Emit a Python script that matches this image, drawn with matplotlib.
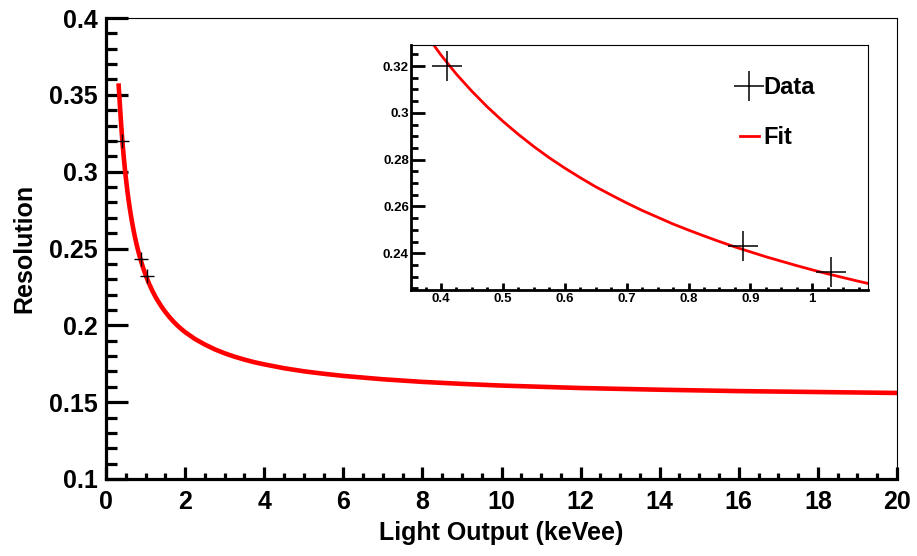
import numpy as np
import matplotlib.pyplot as plt
from matplotlib.ticker import MultipleLocator, FormatStrFormatter
from matplotlib.lines import Line2D

plt.rcParams['font.family'] = ['Liberation Sans', 'DejaVu Sans']
plt.rcParams['font.weight'] = 'bold'

# ================== DATA ==================
light_output = [0.41, 0.888, 1.03]          # keVee
resolution = [0.320, 0.243, 0.232]

# fit curve samples
fit_x = [0.32, 0.35, 0.375, 0.40, 0.425, 0.45, 0.475, 0.50, 0.525, 0.55, 0.575,
         0.60, 0.625, 0.65, 0.675, 0.70, 0.725, 0.75, 0.775, 0.80, 0.825, 0.85,
         0.875, 0.90, 0.925, 0.95, 0.975, 1.00, 1.025, 1.05, 1.075, 1.10, 1.175,
         1.25, 1.3, 1.4, 1.5, 1.6, 1.7, 1.8, 1.9, 2.0, 2.25, 2.5, 2.75, 3.0, 3.25,
         3.5, 3.75, 4.0, 4.5, 5.0, 5.5, 6.0, 7.0, 8.0, 9.0, 10.0, 12.0, 14.0,
         16.0, 18.0, 20.0]
fit_y = [0.356, 0.344, 0.3338, 0.3247, 0.3165, 0.3092, 0.3025, 0.2964, 0.2908,
         0.2856, 0.2808, 0.2764, 0.2723, 0.2684, 0.2649, 0.2615, 0.2583, 0.2554,
         0.2525, 0.2499, 0.2474, 0.2450, 0.2427, 0.2406, 0.2385, 0.2366, 0.2347,
         0.2329, 0.2312, 0.2296, 0.2280, 0.2265, 0.2223, 0.2186, 0.2164, 0.2123,
         0.2087, 0.2055, 0.2026, 0.2000, 0.1977, 0.1956, 0.1911, 0.1875, 0.1844,
         0.1818, 0.1796, 0.1777, 0.1760, 0.1746, 0.1721, 0.1701, 0.1685, 0.1671,
         0.1649, 0.1632, 0.1619, 0.1608, 0.1592, 0.1581, 0.1572, 0.1566, 0.1560]

# ================== MAIN PLOT ==================
fig = plt.figure(figsize=(9.17, 5.56), dpi=100)
ax = fig.add_axes([106/917, 1 - 479/556, 791/917, 461/556])

ax.plot(fit_x, fit_y, color='red', lw=3.3, zorder=2)
ax.plot(light_output, resolution, ls='none', marker='+', color='black',
        ms=10, mew=1.0, zorder=3)

ax.set_xlim(0, 20)
ax.set_ylim(0.1, 0.4)
ax.xaxis.set_major_locator(MultipleLocator(2))
ax.xaxis.set_minor_locator(MultipleLocator(0.5))
ax.yaxis.set_major_locator(MultipleLocator(0.05))
ax.yaxis.set_minor_locator(MultipleLocator(0.01))
ax.yaxis.set_major_formatter(FormatStrFormatter('%g'))

for side in ['left', 'bottom']:
    ax.spines[side].set_linewidth(2.3)
for side in ['top', 'right']:
    ax.spines[side].set_linewidth(0.8)

ax.tick_params(axis='both', which='both', direction='in', top=False, right=False,
               width=2.3, labelsize=18)
ax.tick_params(axis='y', which='major', length=16, pad=6)
ax.tick_params(axis='y', which='minor', length=8)
ax.tick_params(axis='x', which='major', length=9, pad=8)
ax.tick_params(axis='x', which='minor', length=4.5)

ax.set_xlabel("Light Output (keVee)", fontsize=18, fontweight='bold')
ax.set_ylabel("Resolution", fontsize=18, fontweight='bold')
ax.xaxis.set_label_coords(0.5, -0.091)
ax.yaxis.set_label_coords(-0.088, 0.5)

# ================== INSET ==================
ax_in = fig.add_axes([411/917, 1 - 290/556, 457/917, 245/556])
ax_in.plot(fit_x, fit_y, color='red', lw=2.0, zorder=2)
ax_in.plot(light_output, resolution, ls='none', marker='+', color='black',
           ms=22, mew=1.1, zorder=3)

ax_in.set_xlim(0.3515, 1.09)
ax_in.set_ylim(0.2243, 0.329)
ax_in.xaxis.set_major_locator(MultipleLocator(0.1))
ax_in.xaxis.set_minor_locator(MultipleLocator(0.025))
ax_in.yaxis.set_major_locator(MultipleLocator(0.02))
ax_in.yaxis.set_minor_locator(MultipleLocator(0.005))
ax_in.xaxis.set_major_formatter(FormatStrFormatter('%g'))
ax_in.yaxis.set_major_formatter(FormatStrFormatter('%g'))

for side in ['left', 'bottom']:
    ax_in.spines[side].set_linewidth(2.0)
for side in ['top', 'right']:
    ax_in.spines[side].set_linewidth(0.8)

ax_in.tick_params(axis='both', which='both', direction='in', top=False, right=False,
                  width=2.0, labelsize=9.5)
ax_in.tick_params(axis='y', which='major', length=10, pad=1.5)
ax_in.tick_params(axis='y', which='minor', length=5)
ax_in.tick_params(axis='x', which='major', length=5, pad=2)
ax_in.tick_params(axis='x', which='minor', length=2.5)

handles = [Line2D([], [], ls='none', marker='+', color='black', ms=22, mew=1.1),
           Line2D([], [], color='red', lw=2.0)]
fig.legend(handles, ["Data", "Fit"], loc='upper left',
           bbox_to_anchor=(740/917, 1 - 76/556), frameon=False,
           prop={'size': 17, 'weight': 'bold'}, handlelength=0.8,
           handletextpad=0.2, labelspacing=1.15, borderpad=0, borderaxespad=0)

fig.savefig("out.png", dpi=100, facecolor='white')
